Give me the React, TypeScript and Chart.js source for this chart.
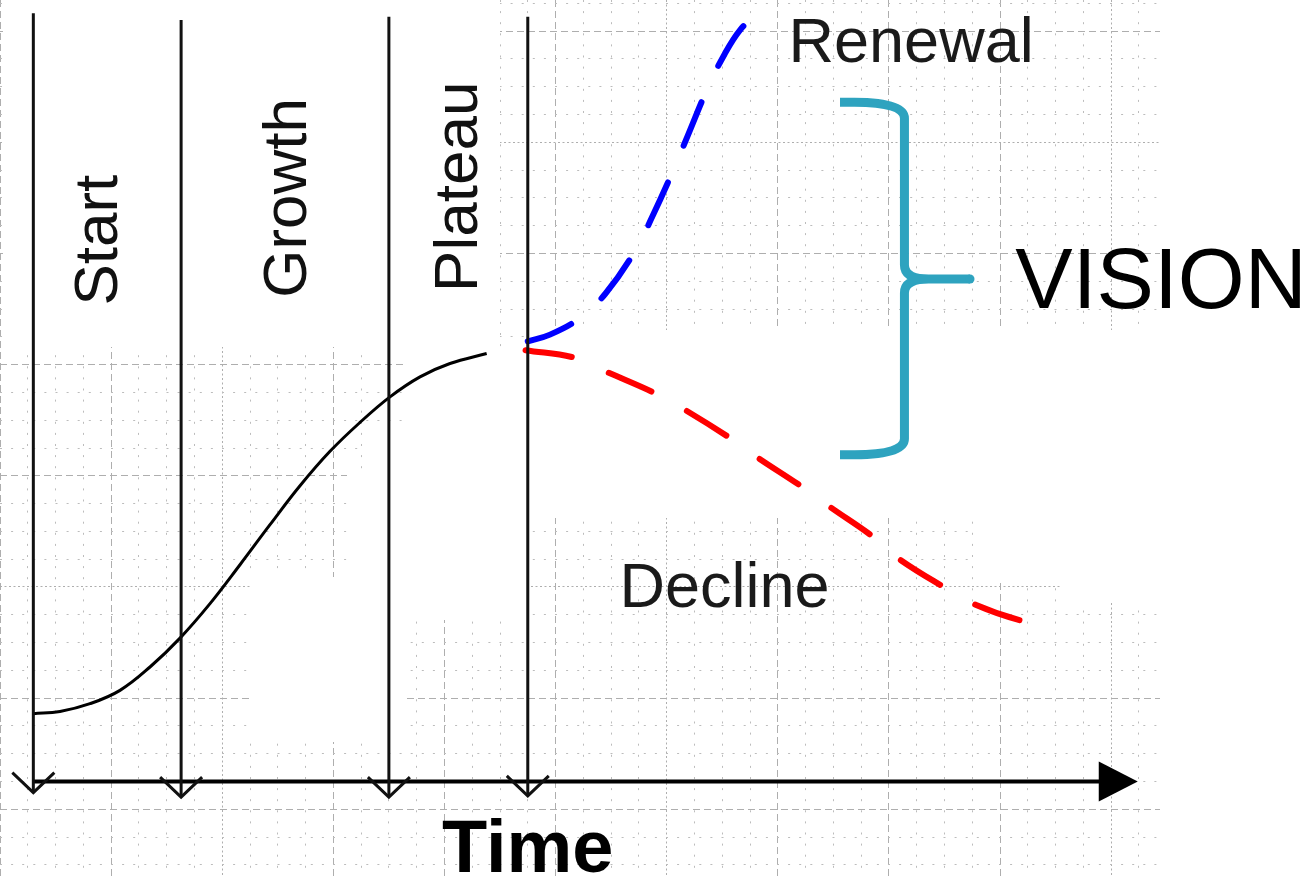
import React, { useEffect, useRef } from 'react';
import { Chart, registerables } from 'chart.js';

Chart.register(...registerables);

// ---- data (grid-cell units: x = time, y = performance) ----
const blackX = [0.30, 0.54, 0.81, 1.08, 1.35, 1.62, 1.89, 2.16, 2.43, 2.70, 2.97, 3.24, 3.51, 3.78, 4.05, 4.38];
const blackY = [0.86, 0.88, 0.95, 1.07, 1.28, 1.54, 1.85, 2.20, 2.56, 2.91, 3.22, 3.48, 3.71, 3.89, 4.01, 4.10];

const declineX = [4.73, 5.18, 5.47, 5.90, 6.17, 6.57, 6.81, 7.22, 7.47, 7.86, 8.08, 8.51, 8.78, 9.18, 9.36];
const declineY = [4.13, 4.06, 3.93, 3.74, 3.59, 3.34, 3.17, 2.90, 2.72, 2.45, 2.26, 1.99, 1.84, 1.70, 1.68];

const renewalX = [4.75, 4.95, 5.22, 5.45, 5.72, 5.87, 6.06, 6.19, 6.37, 6.52, 6.66, 6.81];
const renewalY = [4.21, 4.27, 4.42, 4.64, 5.03, 5.33, 5.75, 6.06, 6.49, 6.79, 7.01, 7.15];

const phaseX = [0.30, 1.63, 3.50, 4.75];
const phaseTop = [7.16, 7.10, 7.13, 7.13];
const phaseBottom = [0.15, 0.11, 0.11, 0.12];

const phaseLabels = ['Start', 'Growth', 'Plateau'];
const phaseLabelX = [1.05, 2.75, 4.29];
const phaseLabelY = [5.12, 5.50, 5.60];

const axisY = 0.25;
const axisStart = 0.30;
const axisEnd = 10.24;
const axisTitle = 'Time';
const axisTitleX = 4.75;
const axisTitleY = -0.56;

const outcomeLabels = ['Renewal', 'Decline'];
const outcomeX = [8.20, 6.52];
const outcomeY = [6.72, 1.82];

const braceLabel = 'VISION';
const braceLabelX = 10.45;
const braceLabelY = 4.51;
const braceX = 8.14;
const braceTop = 6.36;
const braceBottom = 3.19;
const braceMid = 4.77;
const braceTipX = 8.73;
const braceArmX = 7.56;

const X_MAX = 10.44;
const Y_MIN = -0.6;
const Y_MAX = 7.28;

const majorXTicks = [0, 1, 2, 3, 4, 5, 6, 7, 8, 9, 10];
const majorYTicks = [0, 1, 2, 3, 4, 5, 6, 7];

const pts = (xs: number[], ys: number[]) => xs.map((x, i) => ({ x, y: ys[i] }));

function quarterTicks(min: number, max: number) {
  const out: { value: number }[] = [];
  for (let v = Math.ceil(min * 4) / 4; v <= max + 1e-9; v += 0.25) {
    if (Math.abs(v - Math.round(v)) > 1e-6) out.push({ value: v });
  }
  return out;
}

const FONT = '"Liberation Sans", Arial, Helvetica, sans-serif';

const decorPlugin = {
  id: 'decor',
  beforeDatasetsDraw(chart: any) {
    const ctx = chart.ctx;
    // white areas where the background grid is blanked in the diagram
    const masks = [
      [3, 0, 500, 347],
      [405, 347, 527, 620],
      [365, 430, 527, 470],
      [347, 470, 527, 577],
      [250, 577, 405, 742],
      [527, 330, 1160, 518],
      [975, 518, 1160, 582],
      [1060, 582, 1160, 603],
    ];
    ctx.save();
    ctx.fillStyle = '#ffffff';
    masks.forEach(([x0, y0, x1, y1]) => ctx.fillRect(x0, y0, x1 - x0, y1 - y0));
    ctx.restore();
  },
  afterDatasetsDraw(chart: any) {
    const ctx = chart.ctx;
    const xs = chart.scales.x;
    const ys = chart.scales.y;
    const px = (v: number) => xs.getPixelForValue(v);
    const py = (v: number) => ys.getPixelForValue(v);

    ctx.save();
    // open arrowheads at the bottom of phase lines
    ctx.strokeStyle = '#111';
    ctx.lineWidth = 3;
    ctx.lineJoin = 'miter';
    phaseX.forEach((x, i) => {
      const tx = px(x);
      const ty = py(phaseBottom[i]);
      ctx.beginPath();
      ctx.moveTo(tx - 21, ty - 20);
      ctx.lineTo(tx, ty);
      ctx.lineTo(tx + 21, ty - 20);
      ctx.stroke();
    });

    // filled arrow on time axis
    const ax = px(axisEnd);
    const ay = py(axisY);
    ctx.fillStyle = '#000';
    ctx.beginPath();
    ctx.moveTo(ax, ay);
    ctx.lineTo(ax - 39, ay - 20);
    ctx.lineTo(ax - 39, ay + 20);
    ctx.closePath();
    ctx.fill();

    // brace
    const bx = px(braceX);
    const bt = py(braceTop);
    const bb = py(braceBottom);
    const bm = py(braceMid);
    const tip = px(braceTipX);
    const arm = px(braceArmX);
    ctx.strokeStyle = '#2ea3bf';
    ctx.lineWidth = 9;
    ctx.lineCap = 'butt';
    ctx.lineJoin = 'round';
    ctx.beginPath();
    ctx.moveTo(arm, bt);
    ctx.lineTo(bx - 50, bt);
    ctx.quadraticCurveTo(bx, bt, bx, bt + 16);
    ctx.lineTo(bx, bm - 14);
    ctx.quadraticCurveTo(bx, bm, bx + 24, bm);
    ctx.lineTo(tip, bm);
    ctx.moveTo(bx + 24, bm);
    ctx.quadraticCurveTo(bx, bm, bx, bm + 14);
    ctx.lineTo(bx, bb - 16);
    ctx.quadraticCurveTo(bx, bb, bx - 50, bb);
    ctx.lineTo(arm, bb);
    ctx.stroke();
    ctx.fillStyle = '#2ea3bf';
    ctx.beginPath();
    ctx.arc(tip, bm, 4.5, 0, Math.PI * 2);
    ctx.fill();

    // phase labels (rotated)
    ctx.fillStyle = '#111';
    ctx.font = `62px ${FONT}`;
    ctx.textAlign = 'center';
    ctx.textBaseline = 'alphabetic';
    phaseLabels.forEach((t, i) => {
      ctx.save();
      ctx.translate(px(phaseLabelX[i]), py(phaseLabelY[i]));
      ctx.rotate(-Math.PI / 2);
      ctx.fillText(t, 0, 0);
      ctx.restore();
    });

    // outcome labels
    ctx.fillStyle = '#1a1a1a';
    ctx.font = `63px ${FONT}`;
    outcomeLabels.forEach((t, i) => {
      ctx.fillText(t, px(outcomeX[i]), py(outcomeY[i]));
    });

    // VISION
    ctx.fillStyle = '#000';
    ctx.font = `86px ${FONT}`;
    ctx.fillText(braceLabel, px(braceLabelX), py(braceLabelY));

    // axis title
    ctx.font = `bold 74px ${FONT}`;
    ctx.fillText(axisTitle, px(axisTitleX), py(axisTitleY));
    ctx.restore();
  },
};

export default function App() {
  const ref = useRef<HTMLCanvasElement | null>(null);

  useEffect(() => {
    document.body.style.margin = '0';
    const canvas = ref.current;
    if (!canvas) return;

    const lineDs = (data: any[], color: string, width: number, extra: any = {}) => ({
      data,
      borderColor: color,
      borderWidth: width,
      pointRadius: 0,
      showLine: true,
      fill: false,
      ...extra,
    });

    const datasets: any[] = [
      ...phaseX.map((x, i) =>
        lineDs([{ x, y: phaseTop[i] }, { x, y: phaseBottom[i] }], '#111', 3)
      ),
      lineDs([{ x: axisStart, y: axisY }, { x: axisEnd - 0.3, y: axisY }], '#000', 4),
      lineDs(pts(blackX, blackY), '#000', 3, { tension: 0.4 }),
      lineDs(pts(declineX, declineY), '#ff0000', 6, {
        tension: 0.4,
        borderDash: [47, 40],
        borderCapStyle: 'round',
      }),
      lineDs(pts(renewalX, renewalY), '#0000ff', 6, {
        tension: 0.4,
        borderDash: [47, 40],
        borderCapStyle: 'round',
      }),
    ];

    const majorDash = (c: any) => (c && c.tick && ((c.tick.value % 4) + 4) % 4 === 2 ? [2, 2.5] : [7, 4]);

    const chart = new Chart(canvas, {
      type: 'scatter',
      data: { datasets },
      plugins: [decorPlugin],
      options: {
        animation: false,
        responsive: false,
        devicePixelRatio: 1,
        events: [],
        layout: { padding: { left: 0, top: 0, bottom: 0, right: 149 }, autoPadding: false },
        plugins: { legend: { display: false }, tooltip: { enabled: false } },
        scales: {
          x: {
            type: 'linear',
            min: 0,
            max: X_MAX,
            afterBuildTicks: (s: any) => {
              s.ticks = majorXTicks.map((v) => ({ value: v }));
            },
            ticks: { display: false },
            grid: { color: '#aeaeae', lineWidth: 1, drawTicks: false },
            border: { display: false, dash: majorDash },
          },
          y: {
            type: 'linear',
            min: Y_MIN,
            max: Y_MAX,
            afterBuildTicks: (s: any) => {
              s.ticks = majorYTicks.map((v) => ({ value: v }));
            },
            ticks: { display: false },
            grid: { color: '#aeaeae', lineWidth: 1, drawTicks: false },
            border: { display: false, dash: majorDash },
          },
          xm: {
            type: 'linear',
            position: 'bottom',
            min: 0,
            max: X_MAX,
            afterBuildTicks: (s: any) => {
              s.ticks = quarterTicks(0, X_MAX);
            },
            ticks: { display: false },
            grid: { color: '#bcbcbc', lineWidth: 1, drawTicks: false },
            border: { display: false, dash: [2, 9.1] },
          },
          ym: {
            type: 'linear',
            position: 'left',
            min: Y_MIN,
            max: Y_MAX,
            afterBuildTicks: (s: any) => {
              s.ticks = quarterTicks(Y_MIN, Y_MAX);
            },
            ticks: { display: false },
            grid: { color: '#bcbcbc', lineWidth: 1, drawTicks: false },
            border: { display: false, dash: [2, 9.1] },
          },
        },
      } as any,
    });

    return () => chart.destroy();
  }, []);

  return (
    <div style={{ width: 1309, height: 876, background: '#fff' }}>
      <canvas ref={ref} width={1309} height={876} style={{ display: 'block' }} />
    </div>
  );
}
